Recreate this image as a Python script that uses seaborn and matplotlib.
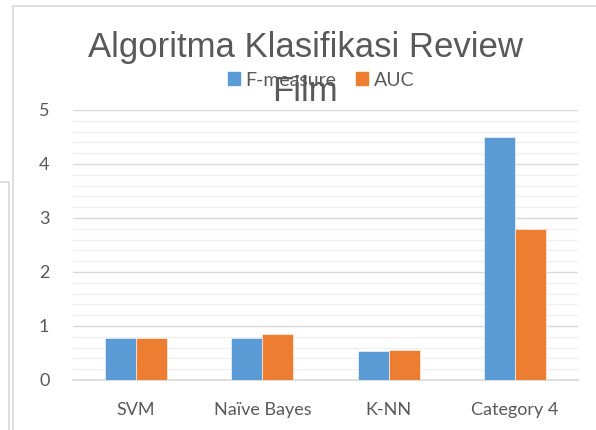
import matplotlib
matplotlib.use("Agg")
import matplotlib.pyplot as plt
import numpy as np
import pandas as pd
import seaborn as sns
from matplotlib.lines import Line2D
from matplotlib.ticker import MultipleLocator

# ---------------------------------------------------------------------------
# Data
# ---------------------------------------------------------------------------
categories = ["SVM", "Naïve Bayes", "K-NN", "Category 4"]
f_measure = [0.77, 0.77, 0.54, 4.5]
auc_vals = [0.78, 0.86, 0.56, 2.8]
series_names = ["F-measure", "AUC"]
series_colors = ["#5B9BD5", "#ED7D31"]
y_ticks = [0, 1, 2, 3, 4, 5]
title_text = "Algoritma Klasifikasi Review\nFilm"

df = pd.DataFrame({
    "category": categories * 2,
    "value": f_measure + auc_vals,
    "series": [series_names[0]] * len(categories) + [series_names[1]] * len(categories),
})

sns.set_theme(style="white")
plt.rcParams["font.family"] = ["Lato", "DejaVu Sans"]

text_grey = "#595959"
grid_major = "#d9d9d9"
grid_minor = "#f0f0f0"

fig = plt.figure(figsize=(5.96, 4.30), dpi=100)
ax = fig.add_axes([73 / 596, 1 - 380 / 430, (578 - 73) / 596, (380 - 110) / 430])

sns.barplot(
    data=df, x="category", y="value", hue="series",
    palette=series_colors, width=0.49, saturation=1,
    edgecolor="white", linewidth=0.4, ax=ax, zorder=3,
)

ax.set_ylim(0, 5)
ax.set_xlim(-0.5, len(categories) - 0.5)
ax.yaxis.set_major_locator(MultipleLocator(1))
ax.yaxis.set_minor_locator(MultipleLocator(0.2))
ax.set_yticks(y_ticks)
ax.grid(axis="y", which="minor", color=grid_minor, linewidth=1.0, zorder=0)
ax.grid(axis="y", which="major", color=grid_major, linewidth=1.0, zorder=1)
ax.set_axisbelow(True)
for side in ["top", "right", "left"]:
    ax.spines[side].set_visible(False)
ax.spines["bottom"].set_color(grid_major)
ax.spines["bottom"].set_linewidth(1.2)
ax.set_xlabel("")
ax.set_ylabel("")
ax.tick_params(axis="both", length=0, colors=text_grey, labelsize=13)
ax.tick_params(axis="x", pad=16)
ax.tick_params(axis="y", pad=17)

ax.get_legend().remove()
handles = [plt.Rectangle((0, 0), 1, 1, color=c) for c in series_colors]
fig.legend(
    handles, series_names, loc="center", bbox_to_anchor=(321 / 596, 1 - 80 / 430),
    ncol=2, frameon=False, fontsize=14, labelcolor=text_grey,
    handlelength=0.62, handleheight=0.62, handletextpad=0.3, columnspacing=1.0,
)

# title drawn after the legend so "Film" sits on top, as in the reference
fig.text(305 / 596, 1 - 31 / 430, title_text, ha="center", va="top",
         fontsize=25, color=text_grey, linespacing=1.42,
         family=["Liberation Sans", "DejaVu Sans"])

# chart frame lines from the screenshot
frame = "#d9d9d9"
fig.add_artist(Line2D([13 / 596, 13 / 596], [0, 1 - 6 / 430], transform=fig.transFigure, color=frame, lw=1.2))
fig.add_artist(Line2D([13 / 596, 1], [1 - 6 / 430, 1 - 6 / 430], transform=fig.transFigure, color=frame, lw=1.2))
fig.add_artist(Line2D([8.5 / 596, 8.5 / 596], [0, 1 - 182 / 430], transform=fig.transFigure, color=frame, lw=1.2))
fig.add_artist(Line2D([0, 8.5 / 596], [1 - 182 / 430, 1 - 182 / 430], transform=fig.transFigure, color=frame, lw=1.2))

fig.savefig("out.png", dpi=100)
plt.close(fig)
